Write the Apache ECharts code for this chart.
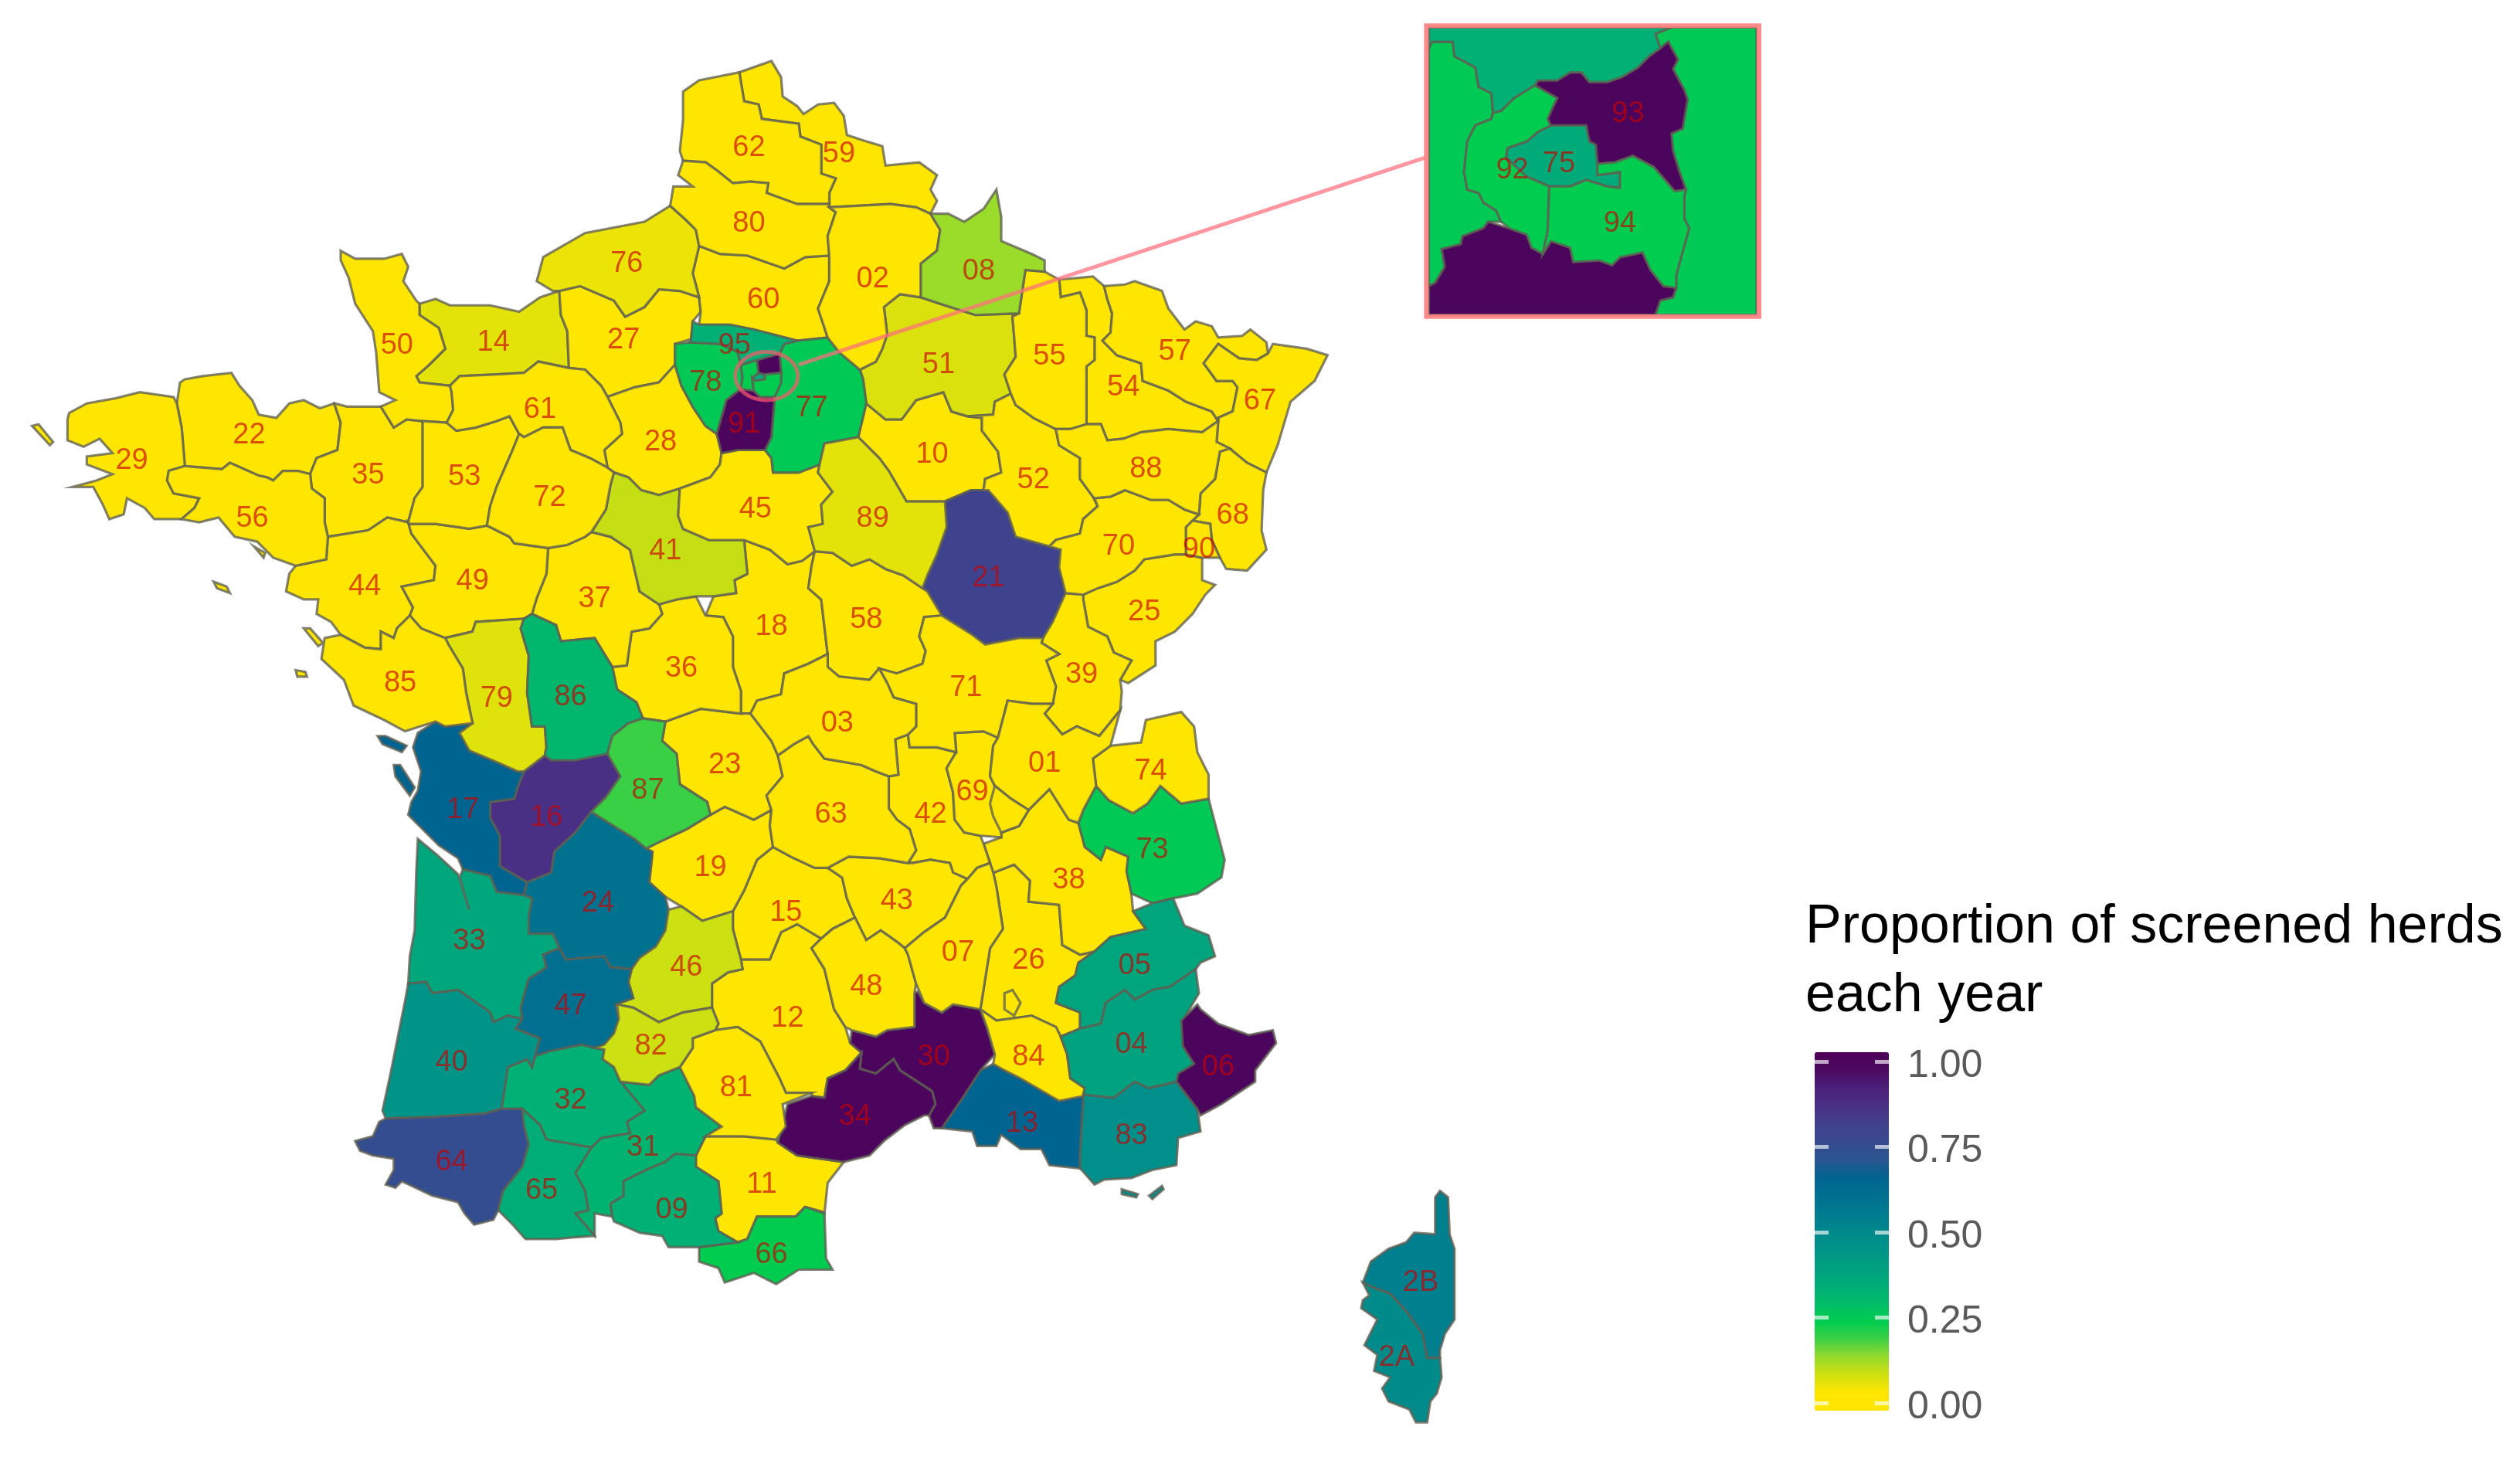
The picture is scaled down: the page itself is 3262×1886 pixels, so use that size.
<!DOCTYPE html>
<html>
<head>
<meta charset="utf-8">
<title>Proportion of screened herds</title>
<script src="https://cdn.jsdelivr.net/npm/echarts@6/dist/echarts.min.js"></script>
<style>
  html, body { margin: 0; padding: 0; background: #fff; }
  #main { width: 3262px; height: 1886px; }
</style>
</head>
<body>
<div id="main"></div>
<script>
const departments = ['62','59','80','76','60','02','08','50','14','27','95','78','77','91','75','92','93','94','51','55','54','57','67','29','22','56','35','53','61','72','28','45','10','89','52','88','70','68','90','21','25','44','49','37','41','18','58','85','79','86','36','03','23','71','39','01','74','69','69M','42','63','87','17','16','73','19','38','43','15','24','33','46','07','26','05','47','48','12','04','06','84','30','82','32','40','81','34','13','83','64','31','65','09','11','66','2B','2A']
const proportions = [0,0,0,.05,0,0,.13,0,.06,0,.33,.25,.25,1,.35,.24,1,.24,.07,0,0,0,0,0,0,0,0,0,0,0,0,0,0,.06,0,0,0,0,0,.8,0,0,0,0,.09,0,0,0,.065,.31,0,0,0,0,0,0,0,0,0,0,0,.19,.66,.87,.25,0,0,0,0,.6,.37,.085,0,0,.38,.61,0,0,.39,1,0,1,.085,.33,.45,0,1,.66,.47,.75,.32,.34,.33,0,.24,.54,.49]
const legendTicks = [0, .25, .5, .75, 1]
const legendColors = ['#FFE600','#FFE600','#CFE010','#96DA2C','#3CD044','#00CC50','#00BC68','#00AC78','#00A080','#009488','#00888C','#007C90','#007090','#006490','#2A5690','#384A90','#42408C','#4A3084','#4B207A','#4C0A60','#4D0057']
const noLabel = ['75','92','93','94','69M']
const insetLabelled = ['75','92','93','94']

// outlines, in a 1568 wide frame
const deptRings = {
  '62':'425,57 435,50 460,45 463,63 472,65 474,74 497,77 498,85 511,90 511,108 520,111 516,120 516,127 496,127 477,120 478,114 467,113 456,114 446,106 439,101 425,100 423,94 425,75',
  '59':'460,45 480,38 486,48 487,60 496,66 500,71 509,65 519,64 525,72 527,84 536,87 549,91 551,103 572,101 583,109 579,118 583,125 579,133 570,129 554,127 516,129 516,127 516,120 520,111 511,108 511,90 498,85 497,77 474,74 472,65 463,63',
  '80':'425,100 422,109 431,116 419,116 417,128 427,137 433,143 435,153 448,158 465,159 488,167 501,160 516,159 515,147 520,132 516,129 516,127 496,127 477,120 478,114 467,113 456,114 446,106 439,101',
  '76':'417,128 401,138 364,145 338,160 334,175 344,181 348,181 361,178 382,187 389,197 401,191 410,180 423,181 435,185 431,170 435,153 433,143 427,137',
  '60':'435,153 448,158 465,159 488,167 501,160 516,159 516,175 509,192 515,210 496,212 469,205 454,202 435,202 436,194 435,185 431,170',
  '02':'516,129 554,127 570,129 579,133 585,143 583,156 573,164 573,185 560,183 550,191 552,208 549,217 545,225 535,230 522,219 515,210 509,192 516,175 516,159 515,147 520,132',
  '08':'579,133 585,143 583,156 573,164 573,185 588,190 607,196 634,195 638,168 650,169 650,162 642,158 623,150 623,135 620,118 612,130 600,138 590,133',
  '50':'212,156 221,161 239,161 250,158 254,166 251,175 259,187 261,189 261,196 273,204 277,217 267,227 259,234 261,238 280,240 281,244 282,255 278,263 263,262 253,261 245,266 237,253 246,249 236,244 234,219 232,206 221,189 217,173 212,162',
  '14':'261,189 271,186 280,190 305,190 323,194 336,185 348,181 349,196 353,206 354,229 335,225 326,232 309,233 286,234 280,240 261,238 259,234 267,227 277,217 273,204 261,196',
  '27':'348,181 361,178 382,187 389,197 401,191 410,180 423,181 435,185 436,194 431,200 430,211 420,214 420,227 410,238 395,241 378,247 374,240 364,230 354,229 353,206 349,196',
  '95':'430,211 431,200 435,202 454,202 469,205 496,212 488,214 485,220 471,224 461,227 459,219 448,214 429,213',
  '78':'420,214 429,213 448,214 459,219 461,227 462,235 461,242 452,249 446,270 439,265 431,253 424,240 420,227',
  '77':'488,214 496,212 515,210 522,219 535,230 537,236 539,251 534,272 513,276 510,289 497,294 481,294 480,285 476,280 480,272 482,247 486,238 486,232 485,220',
  '91':'461,242 469,243 473,247 482,247 480,272 476,280 459,280 449,282 446,270 452,249',
  '93':'471,224 485,220 486,232 476,233 472,232',
  '92':'461,227 471,224 472,232 468,235 469,243 461,242 462,235',
  '75':'468,235 472,232 476,233 476,236 470,237',
  '94':'470,237 476,236 476,233 486,232 486,238 482,247 473,247 469,243 468,235',
  '51':'550,191 552,208 549,217 545,225 535,230 537,236 539,251 551,261 561,261 570,249 587,244 592,256 602,259 618,258 619,250 629,245 625,233 632,222 631,209 630,197 634,195 607,196 588,190 573,185 560,183',
  '55':'638,168 650,169 659,174 660,185 672,182 676,193 676,209 681,210 681,224 676,228 676,252 676,264 666,267 657,267 643,260 632,252 629,245 625,233 632,222 631,209 630,197 634,195',
  '54':'659,174 680,172 687,178 689,186 692,195 691,207 686,212 695,221 710,226 711,237 727,243 738,250 754,256 758,262 748,269 727,267 710,269 699,273 689,274 685,264 676,264 676,252 676,228 681,224 681,210 676,209 676,193 672,182 660,185',
  '57':'687,178 700,177 706,175 723,181 727,192 737,205 744,200 754,203 758,210 773,209 778,205 788,213 789,220 782,224 771,223 758,214 749,226 757,237 767,237 770,241 767,256 758,260 758,262 754,256 738,250 727,243 711,237 710,226 695,221 686,212 691,207 692,195 689,186',
  '67':'749,226 758,214 771,223 782,224 789,220 792,214 813,217 826,221 818,237 803,250 795,277 788,294 776,288 765,279 757,275 758,262 758,260 767,256 770,241 767,237 757,237',
  '29':'43,257 54,251 71,248 87,244 108,247 110,251 113,266 115,290 105,293 104,299 108,307 124,310 121,316 113,323 96,323 90,316 79,310 77,320 68,323 64,314 58,303 45,303 60,299 70,295 54,289 54,284 70,282 62,273 52,278 42,274 42,261|20,265 24,264 33,275 31,277',
  '22':'115,236 126,234 144,232 149,240 157,249 161,258 172,260 180,251 189,249 199,254 208,251 212,263 210,280 197,285 193,295 185,293 176,293 170,299 166,297 161,296 143,288 138,292 115,290 113,266 110,251 112,238',
  '56':'105,293 115,290 138,292 143,288 161,296 166,297 170,299 176,293 185,293 193,295 194,304 202,310 202,325 204,334 203,348 184,352 170,347 160,337 146,334 136,322 124,325 113,323 121,316 124,310 108,307 104,299|133,362 141,365 143,369 135,366|158,340 165,344 164,347',
  '35':'208,251 216,253 237,253 245,266 253,261 263,262 263,276 263,303 258,310 254,325 241,322 229,330 204,334 202,325 202,310 194,304 193,295 197,285 210,280 212,263',
  '53':'263,262 278,263 284,268 296,266 309,262 317,259 323,270 319,280 309,303 305,315 303,327 292,329 271,326 255,326 254,325 258,310 263,303 263,276',
  '61':'281,244 280,240 286,234 309,233 326,232 335,225 354,229 364,230 374,240 378,247 380,251 386,263 387,270 376,280 378,291 367,285 355,280 350,266 338,266 326,272 323,270 317,259 309,262 296,266 284,268 278,263 282,255',
  '72':'323,270 326,272 338,266 350,266 355,280 367,285 378,291 382,294 380,301 377,317 368,331 364,334 353,339 341,341 320,338 317,334 303,327 305,315 309,303 319,280',
  '28':'378,247 395,241 410,238 420,227 424,240 431,253 439,265 446,270 449,282 448,289 442,297 423,304 410,308 399,305 391,297 382,294 378,291 376,280 387,270 386,263 380,251',
  '45':'449,282 459,280 476,280 480,285 481,294 497,294 510,289 509,294 518,306 511,314 512,326 503,328 507,343 499,349 490,351 479,342 463,336 441,336 425,329 422,321 423,304 442,297 448,289',
  '41':'380,301 382,294 391,297 399,305 410,308 423,304 422,321 425,329 441,336 463,336 465,357 457,361 458,369 444,371 433,371 421,373 410,376 398,368 395,355 392,342 380,334 368,331 377,317',
  '10':'539,251 551,261 561,261 570,249 587,244 592,256 602,259 611,260 611,268 621,281 623,294 613,298 612,305 604,305 588,312 564,312 553,293 547,285 534,272',
  '89':'513,276 534,272 547,285 553,293 564,312 588,312 589,328 583,345 577,358 574,366 562,358 551,354 541,348 530,352 518,344 507,343 503,328 512,326 511,314 518,306 509,294 510,289',
  '52':'602,259 618,258 619,250 629,245 632,252 643,260 657,267 659,277 672,285 672,298 680,309 683,315 674,323 672,332 657,336 653,340 632,334 627,319 615,305 612,305 613,298 623,294 621,281 611,268 611,260',
  '88':'676,264 685,264 689,274 699,273 710,269 727,267 748,269 758,262 757,275 765,279 759,281 756,298 747,307 746,320 737,317 727,311 716,311 700,305 691,309 681,310 680,309 672,298 672,285 659,277 657,267 666,267',
  '70':'674,323 683,315 681,310 691,309 700,305 716,311 727,311 737,317 746,320 742,324 738,328 738,345 731,345 712,348 706,355 695,362 683,366 674,370 663,369 659,353 660,342 653,340 657,336 672,332',
  '68':'765,279 776,288 788,294 786,305 785,330 788,342 776,355 763,354 759,347 754,336 753,326 742,324 746,320 747,307 756,298 759,281',
  '90':'742,324 753,326 754,336 759,347 748,347 738,345 738,328',
  '21':'588,312 604,305 612,305 615,305 627,319 632,334 653,340 660,342 659,353 663,369 659,378 655,387 649,397 634,397 613,401 605,395 586,383 577,368 574,366 577,358 583,345 589,328',
  '25':'674,370 683,366 695,362 706,355 712,348 731,345 738,345 748,347 748,361 756,364 750,370 742,382 731,393 719,399 719,414 702,425 697,423 704,411 693,406 689,396 677,390 674,373',
  '44':'204,334 229,330 241,322 254,325 256,332 265,344 271,352 270,361 250,365 257,378 255,383 247,391 245,397 237,393 237,404 227,403 212,395 206,387 197,382 198,373 189,373 178,368 180,357 184,352 203,348',
  '49':'255,326 271,326 292,329 303,327 317,334 320,338 341,341 340,357 334,372 331,382 326,385 296,387 294,393 277,397 262,391 255,383 257,378 250,365 270,361 271,352 265,344 256,332 254,325',
  '37':'341,341 353,339 364,334 368,331 380,334 392,342 395,355 398,368 410,376 412,382 404,391 393,393 390,414 381,415 370,397 349,399 346,389 331,382 334,372 340,357',
  '18':'465,357 463,336 479,342 490,351 499,349 507,343 505,352 503,366 511,373 515,407 503,413 488,419 486,432 471,436 467,444 461,444 461,430 456,415 456,396 450,384 439,383 444,371 458,369 457,361',
  '58':'505,352 507,343 518,344 530,352 541,348 551,354 562,358 574,366 577,368 586,383 575,384 572,396 576,405 574,413 558,419 547,416 541,423 522,421 515,415 515,407 511,373 503,366',
  '85':'212,395 227,403 237,404 237,393 245,397 247,391 255,383 262,391 277,397 279,401 288,416 290,431 294,450 277,452 271,449 252,455 239,448 220,439 214,423 200,410 202,397|189,391 193,391 201,400 198,402|184,417 190,418 191,421 185,421',
  '79':'277,397 294,393 296,387 326,385 324,391 329,408 328,431 331,452 339,452 340,465 339,470 326,480 322,480 311,475 292,467 286,456 294,450 290,431 288,416 279,401',
  '86':'331,382 346,389 349,399 370,397 381,415 384,429 396,437 400,447 391,450 381,458 378,469 358,473 343,473 339,470 340,465 339,452 331,452 328,431 329,408 324,391 326,385',
  '36':'381,415 390,414 393,393 404,391 412,382 410,376 421,373 433,371 439,383 450,384 456,396 456,415 461,430 461,444 436,441 414,449 400,447 396,437 384,429',
  '03':'467,444 471,436 486,432 488,419 503,413 515,407 515,415 522,421 541,423 547,416 552,425 556,434 570,438 570,452 565,457 557,460 559,482 553,483 545,480 536,476 513,472 506,463 503,458 494,463 484,470 480,461',
  '23':'414,449 436,441 461,444 467,444 480,461 484,470 487,483 477,495 480,504 469,510 451,502 442,507 440,499 423,488 421,469 412,461',
  '71':'575,384 586,383 605,395 613,401 634,397 649,397 648,400 659,407 651,411 657,427 655,438 642,438 627,436 621,459 612,455 594,456 595,468 583,465 566,465 565,457 570,452 570,438 556,434 552,425 547,416 558,419 574,413 576,405 572,396',
  '39':'649,397 655,387 659,378 663,369 674,370 674,373 677,390 689,396 693,406 704,411 697,423 698,430 697,442 684,458 670,452 661,457 650,444 655,438 657,427 651,411 659,407 648,400',
  '01':'627,436 642,438 655,438 650,444 661,457 670,452 684,458 697,442 691,464 680,472 682,489 674,504 671,512 665,510 653,491 644,500 640,504 629,497 619,489 616,483 618,464 621,459',
  '74':'680,472 691,464 710,462 713,448 735,443 743,452 745,468 752,482 752,497 735,500 722,489 714,500 705,506 690,498 682,489',
  '69':'594,456 612,455 621,459 618,464 616,483 619,489 629,497 640,504 634,514 623,518 623,521 610,520 600,518 594,510 593,493 589,478 595,468',
  '69M':'619,489 629,497 640,504 634,514 623,518 618,508 616,500',
  '42':'565,457 566,465 583,465 595,468 589,478 593,493 594,510 600,518 610,520 612,525 616,537 608,540 602,547 593,543 591,537 579,535 568,537 565,537 570,529 566,516 558,510 553,503 553,483 559,482 557,460',
  '63':'484,470 494,463 503,458 506,463 513,472 536,476 545,480 553,483 553,503 558,510 566,516 570,529 565,537 547,534 528,533 515,540 507,540 492,533 481,527 479,514 480,504 477,495 487,483',
  '87':'378,469 381,458 391,450 400,447 414,449 412,461 421,469 423,488 440,499 442,507 427,516 410,524 402,528 395,522 374,509 368,505 377,496 386,483',
  '17':'260,456 271,449 277,452 294,450 286,456 292,467 311,475 322,480 326,480 322,490 320,497 305,499 305,509 311,520 311,539 328,549 326,557 309,555 305,545 288,541 285,534 273,526 262,515 254,507 256,499 260,492 262,480 257,465|235,458 240,458 253,464 250,468 238,463|245,476 249,476 258,490 255,495 246,483',
  '16':'326,480 339,470 343,473 358,473 378,469 386,483 377,496 368,505 358,518 345,530 343,543 328,549 311,539 311,520 305,509 305,499 320,497 322,490',
  '73':'671,512 674,504 682,489 690,498 705,506 714,500 722,489 735,500 752,497 762,535 760,546 745,556 730,559 717,562 704,556 701,542 702,533 688,527 685,535 675,527',
  '19':'402,528 410,524 427,516 442,507 451,502 469,510 480,504 479,514 481,527 471,535 463,554 456,567 437,573 424,564 414,558 404,549 406,530',
  '38':'640,504 644,500 653,491 665,510 671,512 675,527 685,535 688,527 702,533 701,542 704,556 705,567 713,578 691,583 681,592 672,594 661,588 659,563 640,561 641,548 631,538 618,543 616,537 612,525 623,521 623,518 634,514',
  '43':'515,540 528,533 547,534 565,537 568,537 579,535 591,537 593,543 602,547 598,551 588,571 575,580 563,590 558,586 548,579 539,585 532,571 527,559 524,546',
  '15':'481,527 492,533 507,540 515,540 524,546 527,559 532,571 518,578 511,584 496,575 486,580 479,597 461,597 456,578 456,567 463,554 471,535',
  '24':'328,549 343,543 345,530 358,518 368,505 374,509 395,522 402,528 406,530 404,549 414,558 416,566 414,579 408,589 398,596 393,603 380,602 376,595 352,597 348,590 344,581 329,581 329,570 331,559 326,557',
  '33':'260,522 272,532 285,544 292,566 286,546 288,541 305,545 309,555 326,557 331,559 329,570 329,581 344,581 348,590 338,594 340,602 329,609 324,627 325,634 316,632 307,636 305,630 291,620 285,616 269,618 265,611 254,612 255,595 258,579 259,543',
  '46':'393,603 398,596 408,589 414,579 416,566 424,564 437,573 456,567 456,578 461,597 462,603 453,605 443,612 443,627 425,630 410,636 394,627 383,625 394,621 391,611',
  '07':'616,537 618,543 620,552 624,578 616,590 613,609 610,628 599,626 593,625 586,630 575,624 570,612 565,594 563,590 575,580 588,571 598,551 602,547 608,540',
  '26':'618,543 631,538 641,548 640,561 659,563 661,588 672,594 681,592 671,599 669,607 659,614 657,624 672,630 672,640 660,645 657,639 642,632 620,635 610,628 613,609 616,590 624,578 620,552',
  '05':'705,567 717,562 730,559 737,576 752,582 756,595 747,599 744,603 728,614 717,616 706,622 700,616 688,624 685,637 672,640 672,630 657,624 659,614 669,607 671,599 681,592 691,583 713,578',
  '47':'348,590 352,597 376,595 380,602 393,603 391,611 394,621 383,625 385,634 382,643 376,650 370,652 362,650 342,654 333,657 336,646 321,640 325,634 324,627 329,609 340,602 338,594',
  '48':'511,584 518,578 532,571 539,585 548,579 558,586 563,590 565,594 570,612 569,618 569,639 552,641 545,645 530,641 526,639 519,628 513,603 505,590',
  '12':'461,597 479,597 486,580 496,575 511,584 505,590 513,603 519,628 526,639 529,649 536,655 526,666 515,671 513,683 505,682 505,680 489,680 485,671 473,648 459,639 445,641 447,637 443,627 443,612 453,605 462,603',
  '04':'660,645 672,640 685,637 688,624 700,616 706,622 717,616 728,614 744,603 746,618 736,635 736,651 743,662 732,673 715,677 706,673 693,683 674,681 675,677 666,671 664,656',
  '06':'745,625 735,635 736,651 743,662 733,668 732,673 745,690 747,694 760,687 781,673 781,666 794,649 792,641 777,644 758,637 747,628',
  '84':'610,628 620,635 642,632 657,639 660,645 664,656 666,671 675,677 674,682 659,685 635,671 625,666 618,662 619,656 614,639|625,618 630,616 635,624 631,632 625,628',
  '30':'571,617 575,624 586,630 593,625 599,626 610,628 614,639 619,656 610,666 599,683 586,702 581,702 578,694 582,687 580,679 560,666 556,659 545,668 535,665 536,655 529,649 530,641 545,645 552,641 569,639 569,618',
  '82':'384,625 394,627 410,636 425,630 443,627 447,637 445,641 431,646 431,652 423,664 410,669 404,675 386,673 382,664 375,659 376,653 370,652 376,650 382,643 385,634',
  '32':'333,657 342,654 362,650 370,652 376,653 375,659 382,664 386,673 401,691 390,698 392,705 374,708 368,714 340,709 336,700 325,690 312,690 316,664 328,659 331,664',
  '40':'254,612 265,611 269,618 285,616 291,620 305,630 307,636 316,632 325,634 321,640 336,646 333,657 331,664 328,659 316,664 312,690 301,693 269,695 240,696 238,691 243,668 248,643 252,623',
  '81':'423,664 431,652 431,646 445,641 459,639 473,648 485,671 489,680 505,680 487,687 489,701 483,709 463,707 439,707 449,701 433,689 432,682',
  '34':'535,665 545,668 556,659 560,666 580,679 582,687 578,694 575,694 563,700 550,710 541,719 525,723 496,719 484,711 490,687 505,682 513,683 515,671 526,666 536,655',
  '13':'610,666 618,662 625,666 635,671 659,685 674,682 674,685 672,719 672,727 653,725 648,715 635,715 623,706 620,713 608,713 605,704 586,702 599,683',
  '83':'674,681 693,683 706,673 715,677 732,673 745,690 747,704 733,708 732,725 717,728 704,733 687,734 681,737 673,728 672,727 672,719 674,685|698,740 708,743 707,745 698,743|715,744 723,738 724,740 717,746',
  '64':'240,696 269,695 301,693 312,690 325,690 326,700 329,712 325,726 313,741 310,753 307,759 295,762 289,755 285,748 269,744 250,735 246,739 240,737 245,728 245,721 232,719 224,716 221,710 232,707 236,698',
  '31':'368,714 374,708 392,705 390,698 401,691 386,673 404,675 410,669 423,664 432,682 433,689 449,701 439,707 433,719 420,718 414,723 402,728 388,735 388,744 380,749 381,757 370,755 370,769 358,755 366,753 364,741 358,730 366,717',
  '65':'310,753 313,741 325,726 329,712 326,700 325,690 336,700 340,709 368,714 366,717 358,730 364,741 366,753 358,755 370,769 356,770 346,771 327,771 319,762',
  '09':'388,735 402,728 414,723 420,718 433,719 433,726 447,735 449,755 445,758 447,766 459,773 435,776 416,776 412,769 398,767 382,760 381,757 380,749 388,744',
  '11':'439,707 463,707 483,709 484,711 496,719 525,723 515,736 513,755 512,754 501,751 495,757 471,757 465,771 459,773 447,766 445,758 449,755 447,735 433,726 433,719',
  '66':'435,776 459,773 465,771 471,757 495,757 501,751 513,755 514,783 518,790 497,790 483,799 469,792 451,798 447,789 435,785',
  '2B':'896,741 901,745 902,768 905,777 905,821 899,830 896,840 896,845 888,845 885,830 875,816 865,805 854,801 848,798 853,785 864,777 875,773 880,767 893,768 893,745',
  '2A':'848,798 854,801 865,805 875,816 885,830 888,845 896,845 897,857 894,867 890,872 888,885 881,885 877,877 864,872 860,864 865,857 855,853 857,843 849,837 854,827 857,821 847,814 848,809 852,806'
}
const labelPos = {
  '62':[466,91],'59':[522,95],'80':[466,138],'76':[390,163],'60':[475,186],'02':[543,173],'08':[609,168],'50':[247,214],'14':[307,212],'27':[388,211],'95':[457,214],'78':[439,237],'77':[505,253],'91':[463,263],'51':[584,226],'55':[653,221],'54':[699,240],'57':[731,218],'67':[784,249],'29':[82,286],'22':[155,270],'56':[157,322],'35':[229,295],'53':[289,296],'61':[336,254],'72':[342,309],'28':[411,274],'45':[470,316],'10':[580,282],'89':[543,322],'52':[643,298],'88':[713,291],'70':[696,339],'68':[767,320],'90':[746,341],'21':[615,359],'25':[712,380],'44':[227,364],'49':[294,361],'37':[370,372],'41':[414,342],'18':[480,389],'58':[539,385],'85':[249,424],'79':[309,434],'86':[355,433],'36':[424,415],'03':[521,449],'23':[451,475],'71':[601,427],'39':[673,419],'01':[650,474],'74':[716,479],'69':[605,492],'42':[579,506],'63':[517,506],'87':[403,491],'17':[288,503],'16':[340,508],'73':[717,528],'19':[442,539],'38':[665,547],'43':[558,560],'15':[489,567],'24':[372,561],'33':[292,585],'46':[427,601],'07':[596,592],'26':[640,597],'05':[706,600],'47':[355,625],'48':[539,613],'12':[490,633],'04':[704,649],'06':[758,663],'84':[640,657],'30':[581,657],'82':[405,650],'32':[355,684],'40':[281,660],'81':[458,676],'34':[532,694],'13':[636,698],'83':[704,706],'64':[281,722],'31':[400,713],'65':[337,740],'09':[418,752],'11':[474,736],'66':[480,780],'2B':[884,797],'2A':[869,844]
}

// Paris inset, same frame, cut to its box
const insetRings = {
  '95':'889,17 1040,17 1030,21 1033,30 1026,35 1019,42 1009,48 1000,51 989,51 984,45 977,45 969,50 957,50 955,53 942,61 934,69 929,70 928,58 920,54 918,42 905,35 904,26 891,26 889,30',
  '78':'889,30 891,26 904,26 905,35 918,42 920,54 928,58 929,70 928,74 918,78 913,88 911,107 913,118 920,120 923,126 931,131 934,138 926,138 923,142 910,147 909,152 897,155 899,166 893,176 889,178',
  '91':'889,178 893,176 899,166 897,155 909,152 910,147 923,142 926,138 939,142 950,146 953,154 960,158 965,150 977,154 979,163 995,162 1003,165 1008,160 1022,157 1027,168 1035,178 1043,179 1041,185 1033,187 1030,196 889,196',
  '77':'1040,17 1093,17 1093,196 1030,196 1033,187 1041,185 1043,179 1043,171 1051,142 1048,136 1048,122 1049,118 1045,107 1041,94 1040,83 1047,80 1050,62 1048,56 1041,43 1044,37 1038,26 1033,30 1030,21',
  '93':'957,50 969,50 977,45 984,45 989,51 1000,51 1009,48 1019,42 1026,35 1033,30 1038,26 1044,37 1041,43 1048,56 1050,62 1047,80 1040,83 1041,94 1045,107 1049,118 1042,119 1029,104 1016,97 1005,101 994,102 993,90 989,88 987,78 965,78 963,74 969,61 955,53',
  '92':'929,70 934,69 942,61 955,53 969,61 963,74 965,78 957,82 950,88 938,92 937,98 950,110 964,116 963,144 960,158 953,154 950,146 939,142 934,138 931,131 923,126 920,120 913,118 911,107 913,88 918,78 928,74',
  '75':'957,82 965,78 987,78 989,88 993,90 994,102 994,109 1008,107 1008,117 1000,116 987,112 977,116 964,116 950,110 937,98 938,92 950,88',
  '94':'964,116 977,116 987,112 1000,116 1008,117 1008,107 994,109 994,102 1005,101 1016,97 1029,104 1042,119 1049,118 1048,122 1048,136 1051,142 1043,171 1043,179 1035,178 1027,168 1022,157 1008,160 1003,165 995,162 979,163 977,154 965,150 960,158 963,144'
}
const insetLabelPos = { '93':[1013,70], '75':[970,101], '92':[941,105], '94':[1008,138] }

// turn a ring table into geojson
const toGeoJson = (rings, labels) => ({
  type: 'FeatureCollection',
  features: Object.keys(rings).map(code => ({
    type: 'Feature',
    properties: { name: code, cp: labels[code] },
    geometry: {
      type: 'MultiPolygon',
      coordinates: rings[code].split('|').map(r => {
        const pts = r.split(' ').map(p => p.split(',').map(Number))
        pts.push(pts[0])
        return [pts]
      })
    }
  }))
})

// frame unit to page pixel
const S = 3262 / 1568
const FRAME = [[0, 0], [1568, 1886 / S]]

echarts.registerMap('france', toGeoJson(deptRings, labelPos))
echarts.registerMap('paris', toGeoJson(insetRings, insetLabelPos))

const seriesData = departments.map((d, i) => ({ name: d, value: proportions[i] }))

const mapSeries = (map, showLabel) => ({
  type: 'map',
  map: map,
  projection: { project: p => p, unproject: p => p },
  boundingCoords: FRAME,
  left: 0,
  top: 0,
  width: 3262,
  height: 1886,
  roam: false,
  silent: true,
  selectedMode: false,
  showLegendSymbol: false,
  itemStyle: { borderColor: 'rgba(95,95,82,0.78)', borderWidth: 3.2, areaColor: '#fff' },
  label: {
    show: true,
    color: 'rgba(200,0,0,0.66)',
    fontFamily: 'Liberation Sans',
    fontSize: 38,
    offset: [0, 2],
    formatter: p => showLabel(p.name) ? p.name : ''
  },
  data: seriesData
})

const chart = echarts.init(document.getElementById('main'))
chart.setOption({
  backgroundColor: '#fff',
  animation: false,
  title: {
    text: 'Proportion of screened herds\neach year',
    left: 2337,
    top: 1156,
    padding: 0,
    textStyle: { fontFamily: 'Liberation Sans', fontWeight: 'normal', fontSize: 70, lineHeight: 89, color: '#000' }
  },
  visualMap: {
    type: 'continuous',
    seriesIndex: [0, 1],
    min: -0.023,
    max: 1.027,
    left: 2349,
    top: 1362,
    itemWidth: 96,
    itemHeight: 464,
    padding: 0,
    calculable: false,
    hoverLink: false,
    text: null,
    showLabel: false,
    inRange: { color: legendColors }
  },
  grid: { left: 2349, top: 1374, width: 96, height: 442 },
  xAxis: { type: 'value', show: false },
  yAxis: [0, 1].map(i => ({
    type: 'value',
    position: i ? 'right' : 'left',
    min: legendTicks[0],
    max: legendTicks[legendTicks.length - 1],
    interval: 0.25,
    z: 10,
    splitLine: { show: false },
    axisLine: { show: false },
    axisTick: { show: true, inside: true, length: 18, lineStyle: { color: 'rgba(255,255,255,0.65)', width: 5 } },
    axisLabel: {
      show: i === 1,
      margin: 24,
      color: '#5a5a5a',
      fontFamily: 'Liberation Sans',
      fontSize: 50,
      verticalAlign: 'top',
      lineHeight: 12,
      formatter: v => v.toFixed(2)
    }
  })),
  series: [
    mapSeries('france', name => !noLabel.includes(name)),
    mapSeries('paris', name => insetLabelled.includes(name))
  ],
  graphic: [
    { type: 'line', z: 50, silent: true,
      shape: { x1: 497 * S, y1: 227 * S, x2: 887 * S, y2: 98 * S },
      style: { stroke: 'rgba(255,110,125,0.72)', lineWidth: 5 } },
    { type: 'ellipse', z: 50, silent: true,
      shape: { cx: 477 * S, cy: 234 * S, rx: 19.5 * S, ry: 15 * S },
      style: { fill: 'none', stroke: 'rgba(255,90,110,0.7)', lineWidth: 5 } },
    { type: 'rect', z: 50, silent: true,
      shape: { x: 887.5 * S, y: 16 * S, width: 207 * S, height: 181 * S },
      style: { fill: 'none', stroke: 'rgba(255,128,128,0.9)', lineWidth: 6 } }
  ]
})
</script>
</body>
</html>
